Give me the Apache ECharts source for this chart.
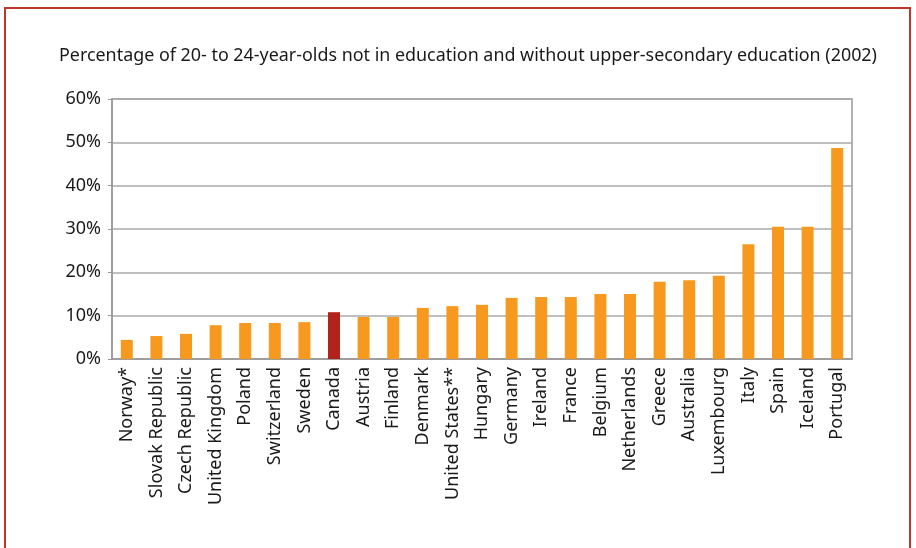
<!DOCTYPE html>
<html lang="en">
<head>
    <meta charset="UTF-8">
    <title>Education chart</title>
    <script src="https://cdn.jsdelivr.net/npm/echarts@6/dist/echarts.min.js"></script>
    <style>
        html, body { margin: 0; padding: 0; background: #fff; }
        #main { width: 916px; height: 548px; }
    </style>
</head>
<body>
    <div id="main"></div>
    <script>
        var countries = ['Norway*', 'Slovak Republic', 'Czech Republic', 'United Kingdom', 'Poland',
            'Switzerland', 'Sweden', 'Canada', 'Austria', 'Finland', 'Denmark', 'United States**',
            'Hungary', 'Germany', 'Ireland', 'France', 'Belgium', 'Netherlands', 'Greece', 'Australia',
            'Luxembourg', 'Italy', 'Spain', 'Iceland', 'Portugal'];
        var pct = [4.4, 5.3, 5.8, 7.8, 8.3, 8.3, 8.5, 10.8, 9.7, 9.7, 11.8, 12.2,
            12.5, 14.1, 14.3, 14.3, 15.0, 15.0, 17.8, 18.2, 19.2, 26.5, 30.5, 30.5, 48.7];
        var highlight = 'Canada';
        var titleText = 'Percentage of 20- to 24-year-olds not in education and without upper-secondary education (2002)';

        var font = '"Noto Sans", sans-serif';
        var chart = echarts.init(document.getElementById('main'));

        chart.setOption({
            animation: false,
            title: {
                text: titleText,
                left: 54,
                top: 42,
                textStyle: { fontFamily: font, fontSize: 17.9, fontWeight: 'normal', color: '#1a1a1a' }
            },
            graphic: [{
                type: 'rect',
                shape: { x: 5, y: 8, width: 905, height: 600 },
                style: { fill: 'none', stroke: '#c0362c', lineWidth: 2 }
            }],
            grid: {
                left: 112, right: 64, top: 99, bottom: 189,
                show: true, borderColor: '#999', borderWidth: 1.5
            },
            xAxis: {
                type: 'category',
                data: countries,
                axisLine: { lineStyle: { color: '#999', width: 1.5 } },
                axisTick: { length: 5, lineStyle: { color: '#999' } },
                axisLabel: {
                    rotate: 90, interval: 0, margin: 8,
                    fontFamily: font, fontSize: 18, color: '#1a1a1a'
                }
            },
            yAxis: {
                type: 'value',
                min: 0, max: 60, interval: 10,
                axisLine: { show: true, lineStyle: { color: '#999', width: 1.5 } },
                axisTick: { show: true, length: 4, lineStyle: { color: '#999' } },
                splitLine: { lineStyle: { color: '#aaa', width: 1.5 } },
                axisLabel: {
                    formatter: '{value}%', margin: 11,
                    fontFamily: font, fontSize: 18, color: '#1a1a1a'
                }
            },
            series: [{
                type: 'bar',
                barWidth: 12,
                data: pct.map(function (v, i) {
                    return {
                        value: v,
                        itemStyle: { color: countries[i] === highlight ? '#b2231b' : '#f7991e' }
                    };
                })
            }]
        });
    </script>
</body>
</html>
